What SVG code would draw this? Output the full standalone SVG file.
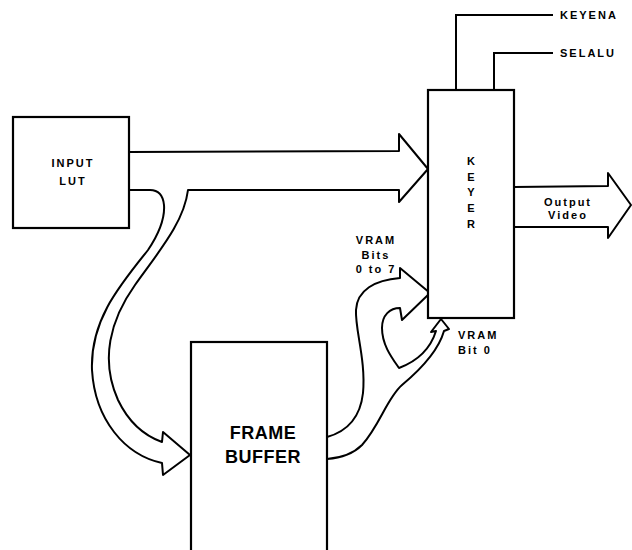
<svg xmlns="http://www.w3.org/2000/svg" width="632" height="550" viewBox="0 0 632 550">
<style>
.box{fill:#fff;stroke:#000;stroke-width:2.2}
.conn{fill:#fff;stroke:#000;stroke-width:2;stroke-linejoin:round}
.line{fill:none;stroke:#000;stroke-width:2}
.lbl{font-family:"Liberation Sans",Arial,sans-serif;font-weight:bold;font-size:11px;letter-spacing:2px;fill:#000}
.big{font-family:"Liberation Sans",Arial,sans-serif;font-weight:bold;font-size:18px;letter-spacing:0.5px;fill:#000}
</style>
<rect width="632" height="550" fill="#fff"/>
<g id="connectors">
  <path id="lut-to-keyer-and-fb" class="conn" d="M129,152 L399,151 L399,134 L428,169 L399,202 L399,190 L188,190 C184,222 160,250 135,285 C110,320 100,360 118,400 C130,425 148,437 162,442 L163,432 L190,455 L163,475 L162,463 C125,455 95,420 92,370 C90,320 120,285 148,250 C160,232 165,218 164,205 C163,195 158,190 150,190 L129,190 Z"/>
  <path id="fb-to-keyer" class="conn" d="M327,437 C345,432 360,420 363,393 C366,360 355,330 356,310 C357,290 375,280 400,278 L400,268 L430,293 L402,320 L400,308 C390,308 382,315 382,328 C382,345 392,358 399,368 C415,362 430,350 436,331 L431,332 L441,319 L449,329 L444,331 C438,352 420,370 402,385 C387,398 380,425 362,445 C352,455 340,458 327,459 Z"/>
  <path id="output-video" class="conn" d="M514,187 L608,186 L608,173 L631,205 L608,238 L608,227 L514,227"/>
  <path id="keyena" class="line" d="M456,90 V15 H553"/>
  <path id="selalu" class="line" d="M494,90 V53 H553"/>
</g>
<g id="input-lut">
  <rect class="box" x="13" y="117" width="116" height="111"/>
  <text class="lbl" x="73" y="167" text-anchor="middle">INPUT</text>
  <text class="lbl" x="73" y="185" text-anchor="middle">LUT</text>
</g>
<g id="frame-buffer">
  <rect class="box" x="191" y="342" width="136" height="215"/>
  <text class="big" x="263" y="439" text-anchor="middle">FRAME</text>
  <text class="big" x="263" y="463" text-anchor="middle">BUFFER</text>
</g>
<g id="keyer">
  <rect class="box" x="428" y="90" width="86" height="228"/>
  <path class="line" d="M428,90 H514" stroke-width="3"/>
  <text class="lbl" x="472" y="165" text-anchor="middle" letter-spacing="0">K</text>
  <text class="lbl" x="472" y="181" text-anchor="middle" letter-spacing="0">E</text>
  <text class="lbl" x="472" y="196" text-anchor="middle" letter-spacing="0">Y</text>
  <text class="lbl" x="472" y="212" text-anchor="middle" letter-spacing="0">E</text>
  <text class="lbl" x="472" y="228" text-anchor="middle" letter-spacing="0">R</text>
</g>
<g id="labels">
  <text class="lbl" x="560" y="19">KEYENA</text>
  <text class="lbl" x="560" y="57">SELALU</text>
  <text class="lbl" x="568" y="206" text-anchor="middle" font-size="10" letter-spacing="1.5">Output</text>
  <text class="lbl" x="568" y="219" text-anchor="middle" font-size="10" letter-spacing="1.5">Video</text>
  <text class="lbl" x="376" y="244" text-anchor="middle" letter-spacing="2.5">VRAM</text>
  <text class="lbl" x="376" y="259" text-anchor="middle" letter-spacing="2">Bits</text>
  <text class="lbl" x="376" y="273" text-anchor="middle" letter-spacing="2.5">0 to 7</text>
  <text class="lbl" x="458" y="339" letter-spacing="2.5">VRAM</text>
  <text class="lbl" x="458" y="354" letter-spacing="2.5">Bit 0</text>
</g>
</svg>
